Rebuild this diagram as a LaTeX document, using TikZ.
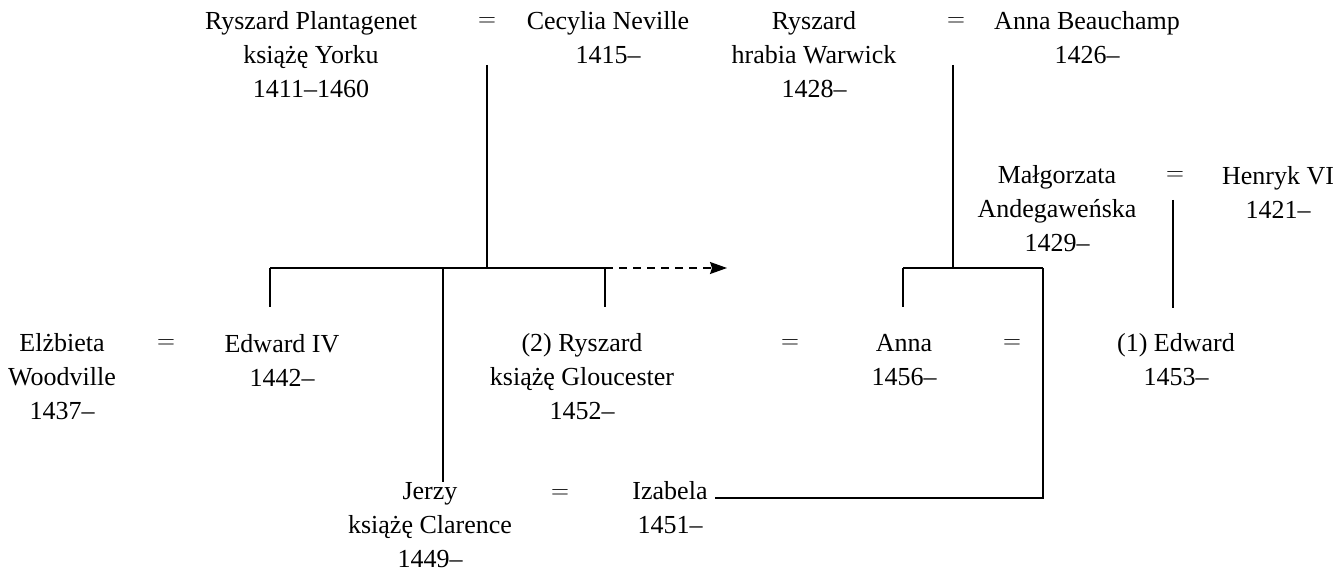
\documentclass[tikz,border=0pt]{standalone}
\usepackage{fontspec}
\setmainfont{Liberation Serif}
\usetikzlibrary{arrows.meta}
\begin{document}
\begin{tikzpicture}[x=1pt,y=-1pt,
  person/.style={align=center, inner sep=0pt, font=\fontsize{26}{34}\selectfont},
  wed/.style={inner sep=0pt, font=\fontsize{26}{34}\selectfont},
  tie/.style={line width=1.5pt},
  later/.style={line width=1.5pt, dash pattern=on 8pt off 6pt,
    -{Stealth[length=17pt,width=12pt,inset=2pt]}}]
\useasboundingbox (0,0) rectangle (1344,577);

% first generation
\node[person] (york) at (311,55) {Ryszard Plantagenet\\książę Yorku\\1411–1460};
\node[wed] (eqA) at (487,22) {$=$};
\node[person] (cecylia) at (608,38) {Cecylia Neville\\1415–};
\node[person] (warwick) at (814,55) {Ryszard\\hrabia Warwick\\1428–};
\node[wed] (eqB) at (956,22) {$=$};
\node[person] (beauchamp) at (1087,38) {Anna Beauchamp\\1426–};

% Lancaster couple
\node[person] (margaret) at (1057,209) {Małgorzata\\Andegaweńska\\1429–};
\node[wed] (eqM) at (1175,176) {$=$};
\node[person] (henry) at (1278,192) {Henryk VI\\1421–};

% second generation
\node[person] (elizabeth) at (62,377) {Elżbieta\\Woodville\\1437–};
\node[wed] (eqE) at (166,344) {$=$};
\node[person] (edward) at (282,360) {Edward IV\\1442–};
\node[person] (richard) at (582,377) {(2) Ryszard\\książę Gloucester\\1452–};
\node[wed] (eqR) at (790,344) {$=$};
\node[person] (anne) at (904,360) {Anna\\1456–};
\node[wed] (eqN) at (1012,344) {$=$};
\node[person] (prince) at (1176,360) {(1) Edward\\1453–};

% Clarence
\node[person] (george) at (430,525) {Jerzy\\książę Clarence\\1449–};
\node[wed] (eqG) at (560,494) {$=$};
\node[person] (isabel) at (670,508) {Izabela\\1451–};

% York descent
\coordinate (yorkTop) at (487,65);
\coordinate (yorkBar) at (487,268);
\coordinate (barL) at (270,268);
\coordinate (barM) at (443,268);
\coordinate (barR) at (605,268);
\coordinate (barEnd) at (727,268);
\draw[tie] (yorkTop) -- (yorkBar);
\draw[tie] (barL) -- (barR);
\draw[later] (barR) -- (barEnd);
\draw[tie] (barL) -- (barL |- 0,307);
\draw[tie] (barM) -- (barM |- george.north);
\draw[tie] (barR) -- (barR |- 0,307);

% Warwick descent
\coordinate (warTop) at (953,65);
\coordinate (warBar) at (953,268);
\coordinate (wbL) at (903,268);
\coordinate (wbR) at (1043,268);
\draw[tie] (warTop) -- (warBar);
\draw[tie] (wbL) -- (wbR);
\draw[tie] (wbL) -- (wbL |- 0,307);
\draw[tie] (wbR) -- (wbR |- 0,498) -- ([xshift=7pt]isabel.east |- 0,498);

% Lancaster descent
\coordinate (henTop) at (1173,200);
\draw[tie] (henTop) -- (henTop |- 0,308);
\end{tikzpicture}
\end{document}
